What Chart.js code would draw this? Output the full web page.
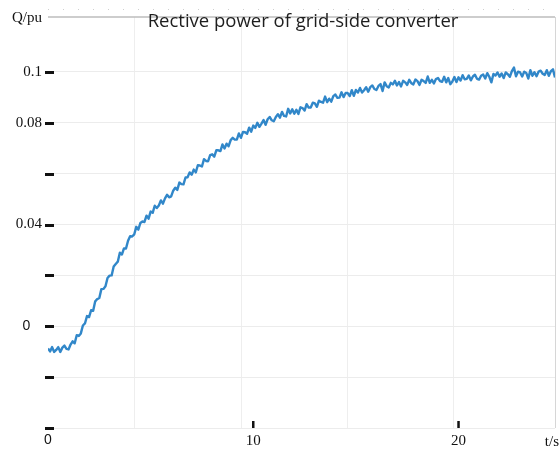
<!DOCTYPE html>
<html>
<head>
<meta charset="utf-8">
<script src="https://cdn.jsdelivr.net/npm/chart.js@4"></script>
<style>
  body { margin: 0; background: #fff; }
  canvas { display: block; }
</style>
</head>
<body>
<canvas id="chart" width="560" height="449"></canvas>
<script>
// reactive power of the grid-side converter, sampled every 0.1 s
var tStep = 0.1
var qValues = [
  -0.0087, -0.0099, -0.0082, -0.0101, -0.0093, -0.0082, -0.0101, -0.0084, -0.0076, -0.0089,
  -0.0091, -0.0072, -0.0059, -0.0067, -0.0035, -0.0038, -0.0028, 0.0003, 0.0011, 0.0040,
  0.0036, 0.0063, 0.0061, 0.0098, 0.0107, 0.0111, 0.0146, 0.0147, 0.0157, 0.0190,
  0.0199, 0.0200, 0.0235, 0.0245, 0.0254, 0.0289, 0.0282, 0.0306, 0.0306, 0.0336,
  0.0354, 0.0353, 0.0361, 0.0391, 0.0380, 0.0406, 0.0412, 0.0410, 0.0435, 0.0423,
  0.0451, 0.0446, 0.0474, 0.0465, 0.0475, 0.0495, 0.0482, 0.0503, 0.0517, 0.0507,
  0.0511, 0.0533, 0.0545, 0.0536, 0.0565, 0.0559, 0.0558, 0.0585, 0.0586, 0.0605,
  0.0596, 0.0616, 0.0605, 0.0633, 0.0632, 0.0628, 0.0657, 0.0650, 0.0649, 0.0673,
  0.0676, 0.0667, 0.0692, 0.0692, 0.0689, 0.0715, 0.0699, 0.0718, 0.0708, 0.0732,
  0.0741, 0.0734, 0.0734, 0.0758, 0.0741, 0.0764, 0.0763, 0.0757, 0.0781, 0.0765,
  0.0789, 0.0780, 0.0800, 0.0784, 0.0797, 0.0811, 0.0792, 0.0814, 0.0823, 0.0810,
  0.0806, 0.0823, 0.0834, 0.0820, 0.0843, 0.0827, 0.0825, 0.0855, 0.0837, 0.0853,
  0.0836, 0.0851, 0.0835, 0.0861, 0.0858, 0.0848, 0.0873, 0.0860, 0.0860, 0.0879,
  0.0876, 0.0863, 0.0887, 0.0882, 0.0879, 0.0903, 0.0881, 0.0895, 0.0883, 0.0905,
  0.0911, 0.0898, 0.0899, 0.0920, 0.0901, 0.0917, 0.0917, 0.0905, 0.0928, 0.0906,
  0.0929, 0.0919, 0.0937, 0.0919, 0.0928, 0.0940, 0.0922, 0.0940, 0.0947, 0.0933,
  0.0929, 0.0945, 0.0952, 0.0925, 0.0959, 0.0944, 0.0939, 0.0957, 0.0951, 0.0965,
  0.0947, 0.0960, 0.0943, 0.0965, 0.0959, 0.0949, 0.0969, 0.0956, 0.0951, 0.0970,
  0.0964, 0.0949, 0.0969, 0.0964, 0.0957, 0.0982, 0.0957, 0.0969, 0.0955, 0.0972,
  0.0976, 0.0964, 0.0961, 0.0981, 0.0959, 0.0976, 0.0952, 0.0962, 0.0980, 0.0960,
  0.0979, 0.0966, 0.0987, 0.0971, 0.0973, 0.0986, 0.0967, 0.0982, 0.0989, 0.0973,
  0.0970, 0.0985, 0.0990, 0.0974, 0.0995, 0.0981, 0.0959, 0.0992, 0.0986, 0.0998,
  0.0981, 0.0994, 0.0976, 0.0998, 0.0991, 0.0981, 0.1003, 0.1017, 0.0983, 0.1001,
  0.0998, 0.0982, 0.1001, 0.0996, 0.0974, 0.1007, 0.0985, 0.0999, 0.0983, 0.1001,
  0.1005, 0.0993, 0.0988, 0.1007, 0.0985, 0.1003, 0.1010, 0.0978
]

var yTickValues = [-0.04, -0.02, 0, 0.02, 0.04, 0.06, 0.08, 0.1]
var yTickLabels = ['', '', '0   ', '', '0.04', '', '0.08', '0.1']
var xTickValues = [0, 10, 20]
var xTickLabels = ['0', '10', '20']
var xMarkedTicks = [10, 20]
var gridTickValues = [1, 2, 3, 4]

var titleText = 'Rective power of grid-side converter'
var yName = 'Q/pu'
var xName = 't/s'

var points = qValues.map(function (q, i) {
    return { x: Math.round(i * tStep * 10) / 10, y: q }
})

var serif = '"Liberation Serif", "Times New Roman", serif'

var decorations = {
    id: 'decorations',
    afterDraw: function (chart) {
        var ctx = chart.ctx
        var area = chart.chartArea
        var xs = chart.scales.x
        var ys = chart.scales.y
        ctx.save()

        // dotted line above the frame
        ctx.strokeStyle = '#cfcfcf'
        ctx.lineWidth = 1
        ctx.setLineDash([1, 14])
        ctx.beginPath()
        ctx.moveTo(area.left, area.top - 7.5)
        ctx.lineTo(area.right, area.top - 7.5)
        ctx.stroke()
        ctx.setLineDash([])

        // top and right frame
        ctx.strokeStyle = '#bdbdbd'
        ctx.lineWidth = 1.5
        ctx.beginPath()
        ctx.moveTo(area.left, area.top)
        ctx.lineTo(area.right, area.top)
        ctx.stroke()
        ctx.strokeStyle = '#d6d6d6'
        ctx.lineWidth = 1
        ctx.beginPath()
        ctx.moveTo(area.right + 0.5, area.top)
        ctx.lineTo(area.right + 0.5, area.bottom)
        ctx.stroke()

        // short black dashes for the y ticks
        ctx.strokeStyle = '#111'
        ctx.lineWidth = 3
        yTickValues.forEach(function (v) {
            var py = Math.round(ys.getPixelForValue(v)) + 0.5
            ctx.beginPath()
            ctx.moveTo(area.left - 3, py)
            ctx.lineTo(area.left + 6, py)
            ctx.stroke()
        })

        // x tick marks pointing up into the plot
        ctx.lineWidth = 2.5
        xMarkedTicks.forEach(function (v) {
            var px = xs.getPixelForValue(v)
            ctx.beginPath()
            ctx.moveTo(px, area.bottom - 7)
            ctx.lineTo(px, area.bottom)
            ctx.stroke()
        })

        // axis names
        ctx.fillStyle = '#111'
        ctx.font = '15px ' + serif
        ctx.textAlign = 'right'
        ctx.textBaseline = 'middle'
        ctx.fillText(yName, area.left - 6, area.top + 1)
        ctx.fillText(xName, chart.width - 1, area.bottom + 14)

        // title, fitted to the width it takes in the reference
        ctx.font = '18px "Open Sans", sans-serif'
        var w = ctx.measureText(titleText).width
        var size = 18 * 310 / w
        ctx.font = size.toFixed(1) + 'px "Open Sans", sans-serif'
        ctx.fillStyle = '#1e1e1e'
        ctx.textAlign = 'center'
        ctx.fillText(titleText, 303, area.top + 5)

        ctx.restore()
    }
}

var chartCanvas = document.getElementById('chart').getContext('2d')

var qChart = new Chart(chartCanvas, {
    type: 'line',
    data: {
        datasets: [
            {
                label: yName,
                data: points,
                borderColor: 'rgba(20,118,194,0.88)',
                borderWidth: 2.4,
                borderJoinStyle: 'round',
                pointRadius: 0,
                tension: 0,
                fill: false
            }
        ]
    },
    options: {
        responsive: false,
        animation: false,
        layout: { padding: { top: 17, right: 5, left: 0, bottom: 0 } },
        plugins: {
            legend: { display: false },
            tooltip: { enabled: false }
        },
        scales: {
            x: {
                type: 'linear',
                min: 0,
                max: 24.7,
                afterBuildTicks: function (scale) {
                    scale.ticks = xTickValues.map(function (v) { return { value: v } })
                },
                afterFit: function (scale) { scale.height = 21 },
                grid: { display: false, drawTicks: false },
                border: { display: false },
                ticks: {
                    padding: 4,
                    maxRotation: 0,
                    color: '#111',
                    font: function (c) {
                        return c.tick && c.tick.value === 0
                            ? { family: '"Liberation Sans", sans-serif', size: 14 }
                            : { family: serif, size: 15 }
                    },
                    callback: function (v, i) { return xTickLabels[i] }
                }
            },
            x2: {
                type: 'linear',
                position: 'top',
                min: 0.18,
                max: 4.96,
                afterBuildTicks: function (scale) {
                    scale.ticks = gridTickValues.map(function (v) { return { value: v } })
                },
                afterFit: function (scale) { scale.height = 0 },
                grid: { color: '#eeeeee', drawTicks: false },
                border: { display: false },
                ticks: { display: false }
            },
            y: {
                min: -0.04,
                max: 0.1216,
                afterBuildTicks: function (scale) {
                    scale.ticks = yTickValues.map(function (v) { return { value: v } })
                },
                afterFit: function (scale) { scale.width = 48 },
                grid: { color: '#ececec', drawTicks: false },
                border: { display: false },
                ticks: {
                    padding: 6,
                    color: '#111',
                    font: function (c) {
                        return c.tick && c.tick.value === 0
                            ? { family: '"Liberation Sans", sans-serif', size: 14 }
                            : { family: serif, size: 15 }
                    },
                    callback: function (v, i) { return yTickLabels[i] }
                }
            }
        }
    },
    plugins: [decorations]
})
</script>
</body>
</html>
